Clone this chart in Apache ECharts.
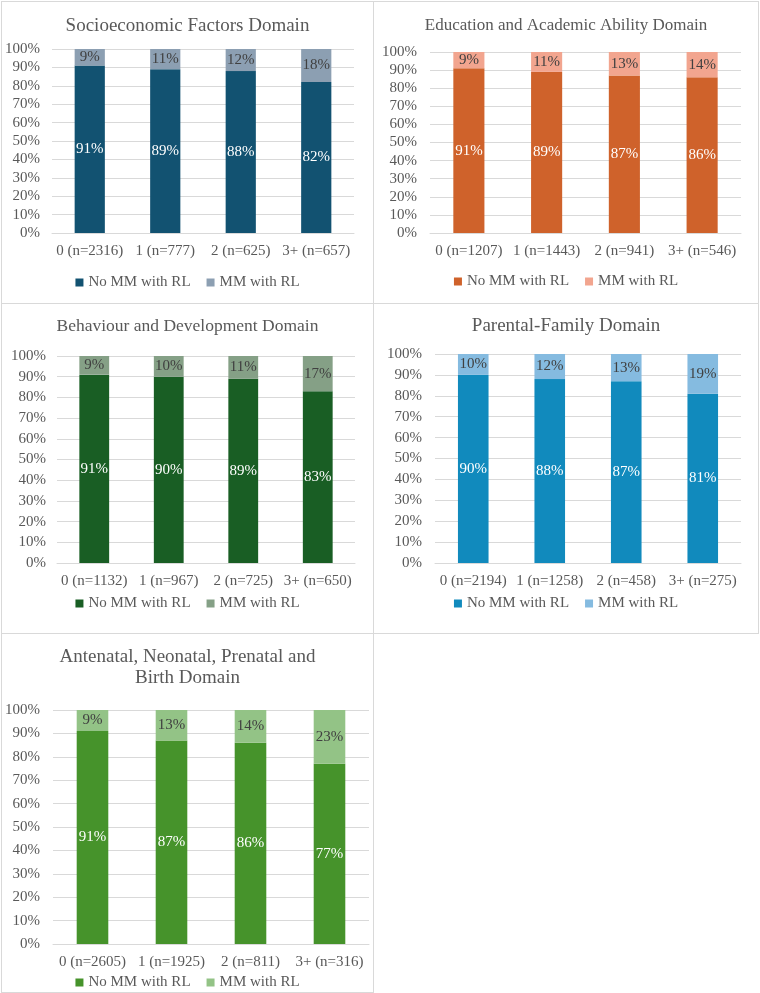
<!DOCTYPE html>
<html>
<head>
<meta charset="utf-8">
<script src="https://cdn.jsdelivr.net/npm/echarts@6/dist/echarts.min.js"></script>
<style>
  body { margin: 0; background: #fff; }
  .panel { position: absolute; box-sizing: border-box; border: 1px solid #d9d9d9; }
  .panel > div { width: 100%; height: 100%; }
</style>
</head>
<body>
<div class="panel" style="left:1px;top:1px;width:373px;height:303px;"><div id="socioChart"></div></div>
<div class="panel" style="left:373px;top:1px;width:386px;height:303px;"><div id="eduChart"></div></div>
<div class="panel" style="left:1px;top:303px;width:373px;height:331px;"><div id="behavChart"></div></div>
<div class="panel" style="left:373px;top:303px;width:386px;height:331px;"><div id="parentChart"></div></div>
<div class="panel" style="left:1px;top:633px;width:373px;height:360px;"><div id="birthChart"></div></div>

<script>
  // data
  const seriesNames = ['No MM with RL', 'MM with RL'];

  const socioCats = ['0 (n=2316)', '1 (n=777)', '2 (n=625)', '3+ (n=657)'];
  const socioNoMM = [91, 89, 88, 82];
  const socioMM = [9, 11, 12, 18];

  const eduCats = ['0 (n=1207)', '1 (n=1443)', '2 (n=941)', '3+ (n=546)'];
  const eduNoMM = [91, 89, 87, 86];
  const eduMM = [9, 11, 13, 14];

  const behavCats = ['0 (n=1132)', '1 (n=967)', '2 (n=725)', '3+ (n=650)'];
  const behavNoMM = [91, 90, 89, 83];
  const behavMM = [9, 10, 11, 17];

  const parentCats = ['0 (n=2194)', '1 (n=1258)', '2 (n=458)', '3+ (n=275)'];
  const parentNoMM = [90, 88, 87, 81];
  const parentMM = [10, 12, 13, 19];

  const birthCats = ['0 (n=2605)', '1 (n=1925)', '2 (n=811)', '3+ (n=316)'];
  const birthNoMM = [91, 87, 86, 77];
  const birthMM = [9, 13, 14, 23];

  const FONT = '"Liberation Serif", "Times New Roman", serif';
  const GREY = '#595959';

  function drawPanel(id, cfg) {
    const chart = echarts.init(document.getElementById(id));
    const option = {
      animation: false,
      textStyle: { fontFamily: FONT },
      title: {
        text: cfg.title,
        left: 'center',
        top: cfg.titleTop,
        textStyle: { fontFamily: FONT, fontSize: cfg.titleSize, fontWeight: 'normal', color: GREY, lineHeight: 21 }
      },
      legend: {
        data: seriesNames,
        left: 'center',
        top: cfg.legendTop,
        icon: 'rect',
        itemWidth: 8,
        itemHeight: 8,
        itemGap: 16,
        textStyle: { fontFamily: FONT, fontSize: 15, color: GREY }
      },
      grid: cfg.grid,
      xAxis: {
        type: 'category',
        data: cfg.cats,
        axisTick: { show: false },
        axisLine: { lineStyle: { color: '#d9d9d9' } },
        axisLabel: { interval: 0, fontFamily: FONT, fontSize: 15, color: GREY, margin: 11 }
      },
      yAxis: {
        type: 'value',
        min: 0,
        max: 100,
        interval: 10,
        axisLabel: { formatter: '{value}%', fontFamily: FONT, fontSize: 15, color: GREY, margin: cfg.yMargin },
        splitLine: { lineStyle: { color: '#d9d9d9' } }
      },
      series: [
        {
          name: seriesNames[0],
          type: 'bar',
          stack: 'total',
          barWidth: '40%',
          data: cfg.noMM,
          itemStyle: { color: cfg.colors[0] },
          label: { show: true, position: 'inside', formatter: '{c}%', fontFamily: FONT, fontSize: 15, color: '#ffffff' }
        },
        {
          name: seriesNames[1],
          type: 'bar',
          stack: 'total',
          barWidth: '40%',
          data: cfg.mm,
          itemStyle: { color: cfg.colors[1] },
          label: { show: true, position: 'inside', formatter: '{c}%', fontFamily: FONT, fontSize: 15, color: '#404040' }
        }
      ]
    };
    chart.setOption(option);
  }

  drawPanel('socioChart', {
    title: 'Socioeconomic Factors Domain', titleSize: 19, titleTop: 9,
    cats: socioCats, noMM: socioNoMM, mm: socioMM,
    colors: ['#125271', '#8c9fb2'],
    grid: { left: 50, right: 19, top: 47, bottom: 70 },
    yMargin: 12, legendTop: 268
  });
  drawPanel('eduChart', {
    title: 'Education and Academic Ability Domain', titleSize: 17, titleTop: 8,
    cats: eduCats, noMM: eduNoMM, mm: eduMM,
    colors: ['#cf622b', '#f2a58f'],
    grid: { left: 56, right: 17, top: 50, bottom: 70 },
    yMargin: 13, legendTop: 267
  });
  drawPanel('behavChart', {
    title: 'Behaviour and Development Domain', titleSize: 17.5, titleTop: 7,
    cats: behavCats, noMM: behavNoMM, mm: behavMM,
    colors: ['#195e24', '#85a086'],
    grid: { left: 55, right: 18, top: 52, bottom: 70 },
    yMargin: 11, legendTop: 287
  });
  drawPanel('parentChart', {
    title: 'Parental-Family Domain', titleSize: 19, titleTop: 7,
    cats: parentCats, noMM: parentNoMM, mm: parentMM,
    colors: ['#118abd', '#85bbe0'],
    grid: { left: 61, right: 17, top: 50, bottom: 70 },
    yMargin: 13, legendTop: 287
  });
  drawPanel('birthChart', {
    title: 'Antenatal, Neonatal, Prenatal and\nBirth Domain', titleSize: 19, titleTop: 8,
    cats: birthCats, noMM: birthNoMM, mm: birthMM,
    colors: ['#46932b', '#93c386'],
    grid: { left: 49, right: 4, top: 76, bottom: 48 },
    yMargin: 13, legendTop: 336
  });
</script>
</body>
</html>
